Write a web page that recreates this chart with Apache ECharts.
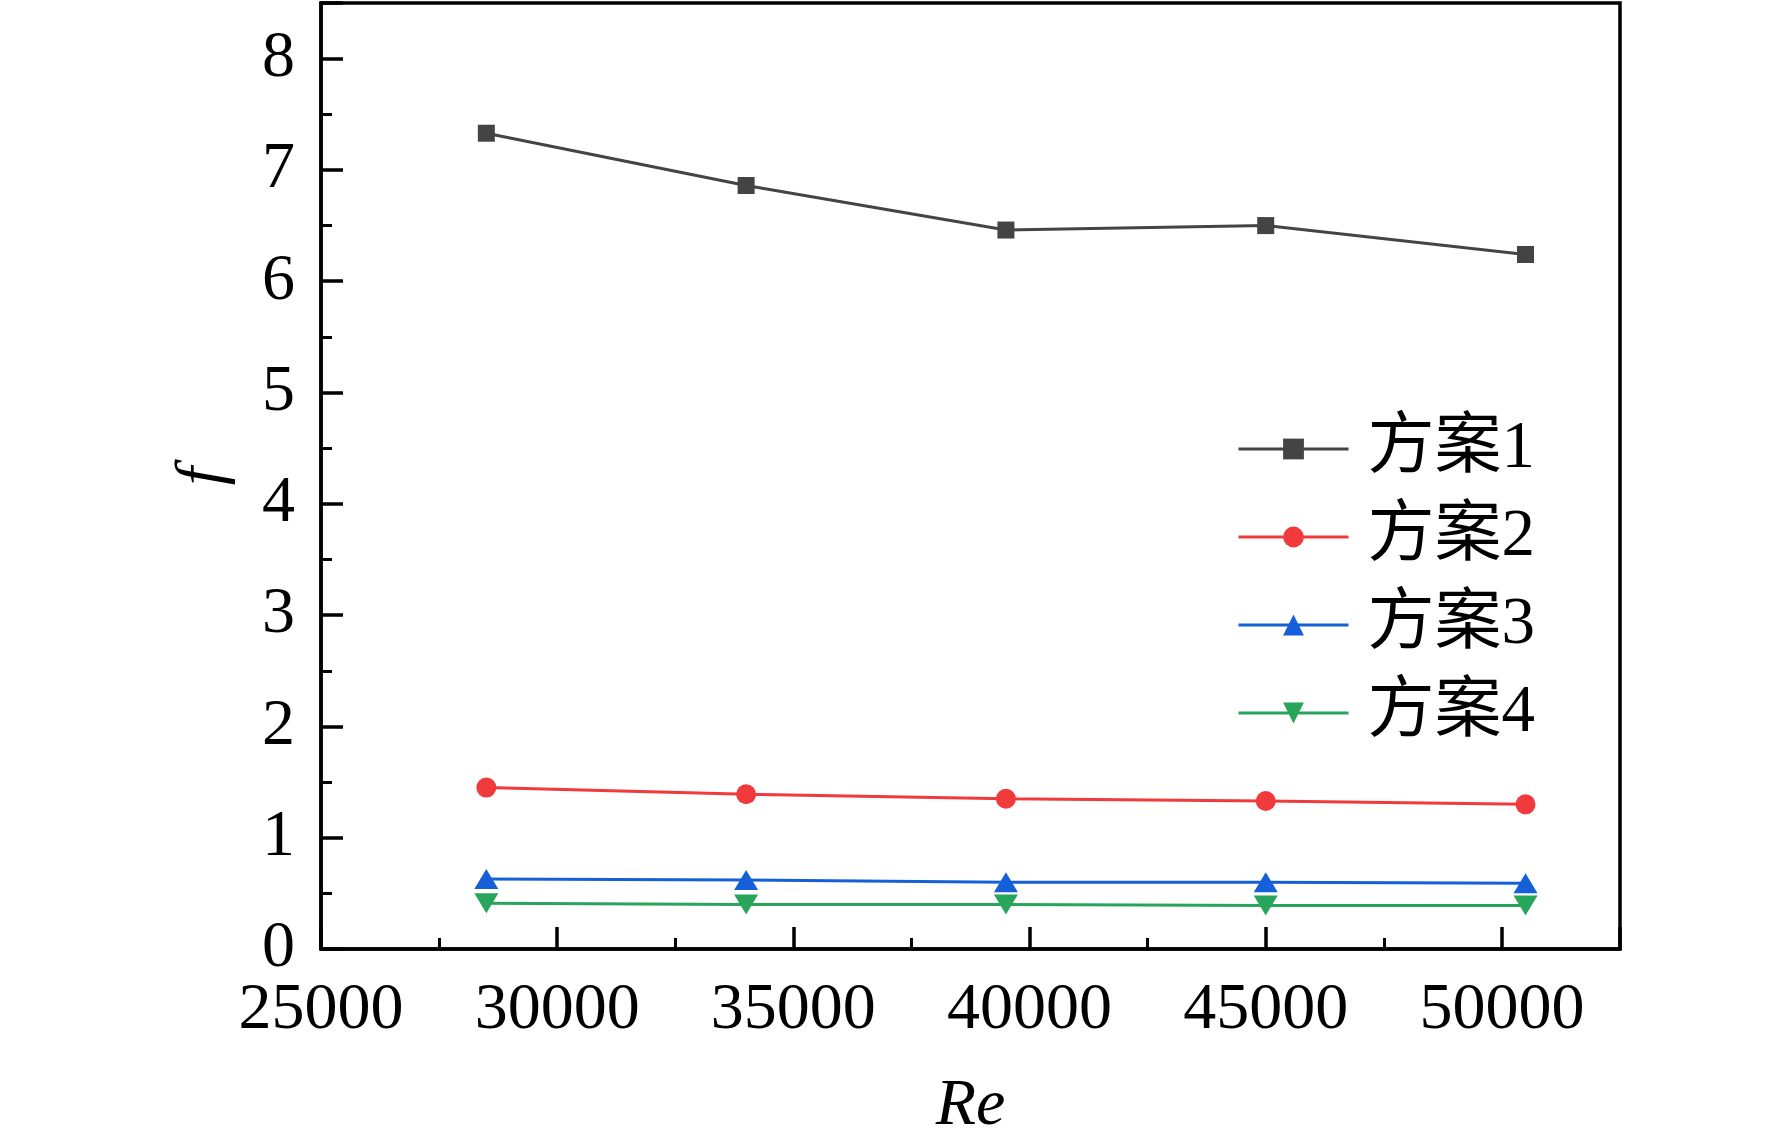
<!DOCTYPE html>
<html>
<head>
<meta charset="utf-8">
<script src="https://cdn.jsdelivr.net/npm/echarts@6/dist/echarts.min.js"></script>
<style>
    html, body { margin: 0; padding: 0; background: #fff; }
    #chart { width: 1772px; height: 1145px; }
</style>
</head>
<body>
<div id="chart"></div>
<script>
// Re values (x axis)
var reValues = [28500, 34000, 39500, 45000, 50500];

// f values for each scheme
var fangan1 = [7.33, 6.86, 6.46, 6.50, 6.24];
var fangan2 = [1.45, 1.39, 1.35, 1.33, 1.30];
var fangan3 = [0.63, 0.62, 0.60, 0.60, 0.59];
var fangan4 = [0.41, 0.40, 0.40, 0.39, 0.39];

var seriesNames = ['方案1', '方案2', '方案3', '方案4'];
var seriesColors = ['#444444', '#f03a3c', '#1560d8', '#27a55b'];

function pares(ys) {
    return ys.map(function (y, i) { return [reValues[i], y]; });
}

var fontFam = '"Liberation Serif", "Times New Roman", "Noto Sans CJK SC", serif';
var chart = echarts.init(document.getElementById('chart'));

var simbolos = ['rect', 'circle', 'triangle', 'path://M0,0 L10,0 L5,8.66 Z'];
var tamanos = [17, 20, [24, 20], [24, 20]];
var datos = [fangan1, fangan2, fangan3, fangan4];

var series = datos.map(function (d, i) {
    return {
        name: seriesNames[i],
        type: 'line',
        data: pares(d),
        symbol: simbolos[i],
        symbolSize: tamanos[i],
        showAllSymbol: true,
        lineStyle: { color: seriesColors[i], width: 3 },
        itemStyle: { color: seriesColors[i] },
        z: 3
    };
});

chart.setOption({
    backgroundColor: '#fff',
    animation: false,
    grid: {
        left: 321, right: 152, top: 3, bottom: 191,
        show: true, borderColor: '#000', borderWidth: 3.5, backgroundColor: 'transparent'
    },
    legend: {
        orient: 'vertical',
        left: 1232,
        top: 400,
        itemWidth: 110,
        itemHeight: 26,
        itemGap: 0,
        lineStyle: { width: 3 },
        textStyle: {
            fontFamily: fontFam,
            fontSize: 67,
            color: '#000',
            lineHeight: 88,
            padding: [0, 0, 0, 14]
        },
        data: seriesNames
    },
    xAxis: {
        type: 'value',
        min: 25000,
        max: 52500,
        interval: 5000,
        name: 'Re',
        nameLocation: 'middle',
        nameGap: 125,
        nameTextStyle: { fontFamily: fontFam, fontStyle: 'italic', fontSize: 66, color: '#000' },
        axisLine: { show: true, lineStyle: { color: '#000', width: 3.5 } },
        axisTick: { show: true, inside: true, length: 22, lineStyle: { color: '#000', width: 3.5 } },
        minorTick: { show: true, splitNumber: 2, length: 11, lineStyle: { color: '#000', width: 3 } },
        splitLine: { show: false },
        axisLabel: {
            fontFamily: fontFam, fontSize: 66, color: '#000', margin: 29,
            showMaxLabel: false,
            formatter: function (v) { return String(v); }
        }
    },
    yAxis: {
        type: 'value',
        min: 0,
        max: 8.5,
        interval: 1,
        name: 'f',
        nameLocation: 'middle',
        nameGap: 84,
        nameRotate: 90,
        nameTextStyle: { fontFamily: fontFam, fontStyle: 'italic', fontSize: 66, color: '#000' },
        axisLine: { show: true, lineStyle: { color: '#000', width: 3.5 } },
        axisTick: { show: true, inside: true, length: 22, lineStyle: { color: '#000', width: 3.5 } },
        minorTick: { show: true, splitNumber: 2, length: 11, lineStyle: { color: '#000', width: 3 } },
        splitLine: { show: false },
        axisLabel: {
            fontFamily: fontFam, fontSize: 66, color: '#000', margin: 26,
            showMaxLabel: false
        }
    },
    series: series
});
</script>
</body>
</html>
